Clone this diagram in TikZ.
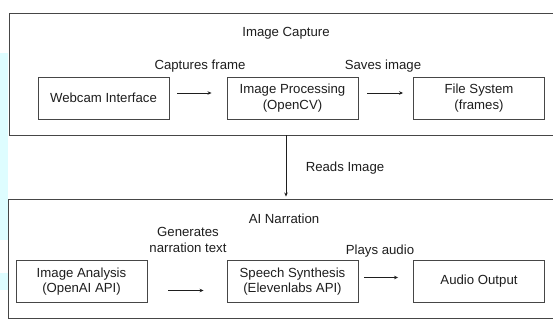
\documentclass[tikz,border=0pt]{standalone}
\usepackage{fontspec}
\setmainfont{Liberation Sans}
\usetikzlibrary{arrows.meta}
\definecolor{linegray}{RGB}{70,70,70}
\definecolor{textgray}{RGB}{30,30,30}
\definecolor{edgecyan}{RGB}{222,253,255}
\tikzset{
  box/.style={draw=linegray, line width=0.9, minimum width=131, minimum height=42, align=center, inner sep=0, text=textgray},
  frame/.style={draw=linegray, line width=0.9, inner sep=0},
  lbl/.style={text=textgray, align=center, inner sep=0},
  flow/.style={draw=textgray, line width=0.7, -{Stealth[length=4pt,width=3.5pt]}}
}
\begin{document}
\begin{tikzpicture}[x=1pt,y=1pt,yscale=-1,xscale=1,font=\fontsize{13.2}{15.5}\selectfont]
\useasboundingbox (0,0) rectangle (553,320);
\clip (0,0) rectangle (553,320);
\fill[white] (0,0) rectangle (553,320);

%Shape: edge strip
\fill[edgecyan] (0,53) rectangle (8,240);
\fill[edgecyan] (0,273) rectangle (8,290);

%Shape: Rectangle (capture frame)
\node[frame, minimum width=547, minimum height=122] (capture) at (282.5,74) {};
%Shape: Rectangle (narration frame)
\node[frame, minimum width=548, minimum height=119] (narration) at (282,258.5) {};

% Text Node
\node[lbl] (capturetitle) at (286,33) {Image Capture};
% Text Node
\node[lbl] (narrationtitle) at (284,219) {AI Narration};

%Shape: Rectangle
\node[box] (webcam) at (103.5,98) {Webcam Interface};
%Shape: Rectangle
\node[box] (improc) at (292.5,98) {Image Processing\\(OpenCV)};
%Shape: Rectangle
\node[box] (filesys) at (479,98) {File System\\(frames)};

%Shape: Rectangle
\node[box] (analysis) at (81.5,281.5) {Image Analysis\\(OpenAI API)};
%Shape: Rectangle
\node[box] (speech) at (292.5,281.5) {Speech Synthesis\\(Elevenlabs API)};
%Shape: Rectangle
\node[box] (audio) at (479,281.5) {Audio Output};

%Straight Lines
\draw[flow] ([xshift=8,yshift=-5]webcam.east) -- ([xshift=-15,yshift=-5]improc.west);
\draw[flow] ([xshift=9,yshift=-5]improc.east) -- ([xshift=-10,yshift=-5]filesys.west);
\draw[flow] ([xshift=21,yshift=9]analysis.east) -- ([xshift=-23,yshift=9]speech.west);
\draw[flow] ([xshift=6,yshift=-4]speech.east) -- ([xshift=-15,yshift=-4]audio.west);

\coordinate (readsx) at (286,0);
\draw[flow] (capture.south -| readsx) -- ([yshift=-2]narration.north -| readsx);

% Text Node
\node[lbl] (captures) at (200,66) {Captures frame};
% Text Node
\node[lbl] (saves) at (383,66) {Saves image};
% Text Node
\node[lbl] (reads) at (345,168) {Reads Image};
% Text Node
\node[lbl, font=\fontsize{13.2}{16}\selectfont] (generates) at (188,240) {Generates\\narration text};
% Text Node
\node[lbl] (plays) at (380,251) {Plays audio};

\end{tikzpicture}
\end{document}
